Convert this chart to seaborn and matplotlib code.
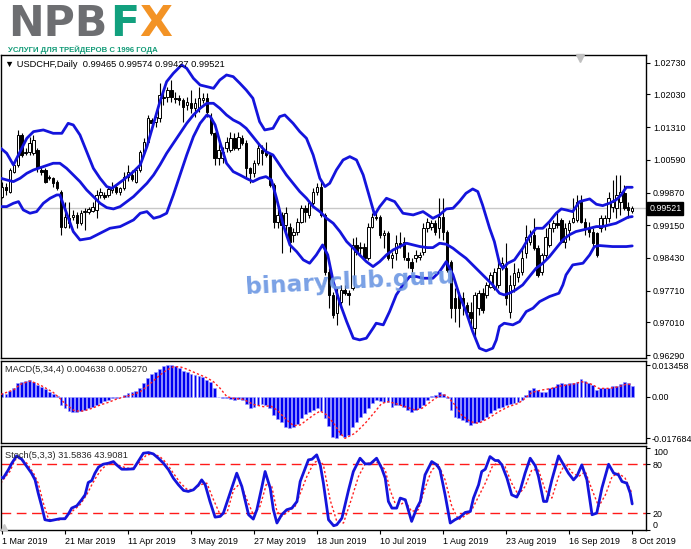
import numpy as np
import matplotlib
matplotlib.use("Agg")
import matplotlib.pyplot as plt
import seaborn as sns
from matplotlib import transforms, font_manager
from matplotlib.lines import Line2D

# ---------------- data ----------------
dates = ['1 Mar 2019', '21 Mar 2019', '11 Apr 2019', '3 May 2019', '27 May 2019', '18 Jun 2019',
         '10 Jul 2019', '1 Aug 2019', '23 Aug 2019', '16 Sep 2019', '8 Oct 2019']
date_pos = [0, 16, 32, 48, 64, 80, 96, 112, 128, 144, 160]

opens = [
    0.99781, 1.00001, 0.99891, 1.00331, 1.00478, 1.01138, 1.00735, 1.00771, 1.00735, 1.00808,
    1.00368, 1.00368, 1.00221, 1.00184, 1.00111, 0.99891, 0.99120, 0.99303, 0.99340, 0.99377,
    0.99193, 0.99450, 0.99450, 0.99465, 0.99487, 0.99817, 0.99817, 0.99817, 0.99927, 1.00001,
    0.99876, 0.99964, 1.00221, 1.00258, 1.00111, 1.00368, 1.00771, 1.00992, 1.01469, 1.01432,
    1.01505, 1.01983, 1.01983, 1.02129, 1.01960, 1.01946, 1.01909, 1.01799, 1.01836, 1.01726,
    1.01726, 1.01909, 1.01946, 1.01505, 1.01175, 1.00625, 1.00625, 1.00845, 1.00808, 1.01065,
    1.00845, 1.01080, 1.00955, 1.00404, 1.00294, 1.00515, 1.00808, 1.00771, 1.00698, 1.00037,
    0.99230, 0.99377, 0.99157, 0.99120, 0.98936, 0.99010, 0.99230, 0.99524, 0.99377, 0.99634,
    0.99891, 1.00001, 0.99377, 0.98129, 0.97615, 0.97212, 0.97468, 0.97725, 0.97652, 0.97762,
    0.98716, 0.98643, 0.98680, 0.98423, 0.99120, 0.99340, 0.99340, 0.98936, 0.98973, 0.98423,
    0.98533, 0.98753, 0.98790, 0.98423, 0.98349, 0.98423, 0.98459, 0.98569, 0.99083, 0.99120,
    0.99193, 0.99083, 0.99340, 0.99010, 0.98349, 0.97542, 0.97615, 0.97542, 0.97395, 0.97248,
    0.96881, 0.97322, 0.97652, 0.97615, 0.97799, 0.97762, 0.97835, 0.98239, 0.98202, 0.97248,
    0.97835, 0.98019, 0.98129, 0.98533, 0.98790, 0.98936, 0.98657, 0.98129, 0.98496, 0.98716,
    0.99083, 0.99193, 0.99267, 0.98790, 0.99047, 0.99230, 0.99267, 0.99670, 0.99230, 0.99083,
    0.99010, 0.98973, 0.99083, 0.99157, 0.99303, 0.99560, 0.99524, 0.99670, 0.99854, 0.99560,
    0.99465]
highs = [
    1.00111, 1.00074, 1.00404, 1.00551, 1.01249, 1.01175, 1.00845, 1.01102, 1.01138, 1.00845,
    1.00441, 1.00404, 1.00258, 1.00221, 1.00148, 0.99927, 0.99670, 0.99670, 0.99487, 0.99450,
    0.99487, 0.99524, 0.99560, 0.99670, 0.99927, 0.99964, 0.99891, 1.00001, 1.00111, 1.00037,
    1.00001, 1.00331, 1.00478, 1.00368, 1.00441, 1.00808, 1.01065, 1.01579, 1.01505, 1.01616,
    1.02276, 1.02093, 1.02203, 1.02349, 1.02093, 1.02019, 1.01946, 1.01983, 1.02129, 1.01946,
    1.02203, 1.02056, 1.02056, 1.01616, 1.01212, 1.00992, 1.00882, 1.01102, 1.01197, 1.01175,
    1.01197, 1.01138, 1.01028, 1.00441, 1.00588, 1.00977, 1.00918, 1.00977, 1.00735, 1.00074,
    0.99560, 0.99450, 0.99560, 0.99193, 0.99083, 0.99303, 0.99597, 0.99597, 0.99670, 0.99964,
    1.00074, 1.00111, 0.99414, 0.98202, 0.97689, 0.97762, 0.97835, 0.97835, 0.97725, 0.98863,
    0.98900, 0.98790, 0.98753, 0.99193, 0.99414, 0.99450, 0.99377, 0.99047, 0.99024, 0.98569,
    0.98936, 0.99010, 0.98900, 0.98569, 0.98423, 0.98606, 0.98569, 0.99193, 0.99303, 0.99267,
    0.99267, 0.99744, 0.99744, 0.99047, 0.98386, 0.97762, 0.97689, 0.97689, 0.97468, 0.97468,
    0.97689, 0.97725, 0.97762, 0.97909, 0.98129, 0.98202, 0.98386, 0.98459, 0.98753, 0.98056,
    0.98313, 0.98202, 0.98643, 0.99157, 0.99047, 0.99303, 0.98716, 0.98533, 0.99083, 0.99193,
    0.99267, 0.99450, 0.99303, 0.99193, 0.99267, 0.99744, 0.99817, 0.99817, 0.99303, 0.99230,
    0.99083, 0.99010, 0.99377, 0.99377, 0.99891, 1.00148, 1.00258, 1.00258, 1.00037, 0.99670,
    0.99574]
lows = [
    0.99744, 0.99817, 0.99854, 1.00294, 1.00441, 1.00661, 1.00698, 1.00698, 1.00698, 1.00331,
    1.00258, 1.00074, 1.00148, 1.00001, 0.99927, 0.98936, 0.99083, 0.99083, 0.99267, 0.99083,
    0.99157, 0.99047, 0.99392, 0.99435, 0.99303, 0.99758, 0.99729, 0.99781, 0.99854, 0.99832,
    0.99817, 0.99927, 1.00125, 1.00125, 1.00074, 1.00331, 1.00735, 1.00977, 1.01359, 1.01322,
    1.01432, 1.01799, 1.01872, 1.01872, 1.01836, 1.01799, 1.01432, 1.01689, 1.01616, 1.01542,
    1.01652, 1.01836, 1.01542, 1.01138, 1.00478, 1.00478, 1.00515, 1.00771, 1.00771, 1.00808,
    1.00808, 1.00918, 1.00221, 1.00074, 1.00221, 1.00478, 1.00478, 1.00661, 1.00001, 0.99083,
    0.99083, 0.98533, 0.98900, 0.98569, 0.98790, 0.98936, 0.99193, 0.99230, 0.99303, 0.99597,
    0.99817, 0.99340, 0.98056, 0.97322, 0.97101, 0.96955, 0.97322, 0.97615, 0.97395, 0.97725,
    0.98496, 0.98496, 0.98386, 0.98386, 0.99083, 0.99267, 0.98863, 0.98643, 0.98386, 0.98202,
    0.98386, 0.98643, 0.98386, 0.98202, 0.98129, 0.98349, 0.98386, 0.98496, 0.99010, 0.99047,
    0.98936, 0.98863, 0.98826, 0.98129, 0.97101, 0.97028, 0.96918, 0.97175, 0.97101, 0.96881,
    0.96661, 0.97175, 0.97212, 0.97542, 0.97762, 0.97725, 0.97762, 0.98166, 0.97395, 0.97101,
    0.97689, 0.97909, 0.98056, 0.98423, 0.98716, 0.98606, 0.98019, 0.98056, 0.98423, 0.98680,
    0.99010, 0.99083, 0.98753, 0.98643, 0.98826, 0.99193, 0.99230, 0.99193, 0.98936, 0.98900,
    0.98680, 0.98459, 0.99010, 0.99047, 0.99230, 0.99450, 0.99303, 0.99377, 0.99487, 0.99303,
    0.99427]
closes = [
    1.00001, 0.99927, 1.00368, 1.00478, 1.01138, 1.00698, 1.00771, 1.00955, 1.01028, 1.00404,
    1.00331, 1.00111, 1.00184, 1.00074, 0.99964, 0.99120, 0.99340, 0.99193, 0.99377, 0.99193,
    0.99414, 0.99465, 0.99509, 0.99560, 0.99817, 0.99891, 0.99781, 0.99949, 1.00001, 0.99876,
    0.99964, 1.00221, 1.00331, 1.00170, 1.00368, 1.00771, 1.00992, 1.01505, 1.01395, 1.01542,
    1.02019, 1.01946, 1.02129, 1.01983, 1.01931, 1.01909, 1.01762, 1.01872, 1.01726, 1.01836,
    1.01946, 1.01960, 1.01652, 1.01175, 1.00625, 1.00808, 1.00771, 1.00977, 1.01065, 1.00845,
    1.01102, 1.00955, 1.00404, 1.00294, 1.00515, 1.00845, 1.00735, 1.00698, 1.00037, 0.99230,
    0.99377, 0.99157, 0.99414, 0.98790, 0.99010, 0.99230, 0.99538, 0.99450, 0.99634, 0.99891,
    1.00001, 0.99377, 0.98129, 0.97615, 0.97175, 0.97615, 0.97725, 0.97652, 0.97615, 0.98716,
    0.98569, 0.98680, 0.98423, 0.99120, 0.99340, 0.99318, 0.98936, 0.98973, 0.98423, 0.98496,
    0.98753, 0.98716, 0.98459, 0.98386, 0.98202, 0.98496, 0.98496, 0.99083, 0.99230, 0.99193,
    0.99010, 0.99340, 0.99010, 0.98166, 0.97322, 0.97322, 0.97322, 0.97395, 0.97248, 0.97101,
    0.97615, 0.97652, 0.97285, 0.97835, 0.98056, 0.98129, 0.98202, 0.98313, 0.97542, 0.97835,
    0.98092, 0.98129, 0.98423, 0.98900, 0.98936, 0.98643, 0.98056, 0.98496, 0.98900, 0.99083,
    0.99193, 0.99157, 0.98790, 0.99083, 0.99193, 0.99303, 0.99670, 0.99230, 0.99083, 0.99010,
    0.98753, 0.98496, 0.99303, 0.99303, 0.99744, 0.99670, 0.99817, 0.99891, 0.99524, 0.99487,
    0.99521]

# Bollinger bands (20,2): bar position / value
ub_x = [-0.3, 1.2, 2.9, 4.6, 6.3, 8.0, 10.5, 13.0, 15.2, 16.8, 18.1, 19.8, 21.5, 23.2, 24.9, 26.6,
        27.9, 29.1, 30.8, 33.4, 35.1, 36.8, 38.5, 40.1, 41.8, 43.5, 45.6, 46.9, 48.6, 50.3, 52.0,
        53.7, 55.3, 57.0, 58.7, 60.4, 62.0, 63.7, 65.4, 66.7, 68.8, 70.5, 71.8, 73.9, 75.6, 77.3,
        79.0, 80.7, 82.0, 83.2, 84.9, 86.6, 88.3, 90.0, 91.7, 93.4, 94.6, 95.9, 97.6, 99.7, 101.8,
        104.4, 106.9, 109.4, 111.1, 112.8, 114.5, 116.1, 117.8, 119.5, 120.8, 122.0, 123.8, 125.0,
        126.3, 127.2, 128.4, 130.1, 132.2, 133.9, 135.6, 137.3, 139.0, 140.7, 142.0, 143.2, 144.9,
        146.6, 149.2, 150.9, 152.5, 154.2, 155.9, 157.2, 158.5, 160.0]
ub_y = [1.00845, 1.00735, 1.00478, 1.00771, 1.01065, 1.01212, 1.01249, 1.01175, 1.01175, 1.01395,
        1.01359, 1.01138, 1.00771, 1.00404, 1.00184, 1.00001, 0.99964, 1.00037, 1.00148, 1.00331,
        1.00478, 1.00882, 1.01395, 1.01872, 1.02313, 1.02496, 1.02680, 1.02606, 1.02386, 1.02239,
        1.02203, 1.02166, 1.02349, 1.02460, 1.02423, 1.02276, 1.02129, 1.01946, 1.01432, 1.01249,
        1.01285, 1.01542, 1.01579, 1.01395, 1.01212, 1.01065, 1.00698, 1.00184, 1.00001, 1.00074,
        1.00368, 1.00588, 1.00661, 1.00588, 1.00258, 0.99744, 0.99377, 0.99560, 0.99744, 0.99670,
        0.99414, 0.99377, 0.99450, 0.99303, 0.99377, 0.99509, 0.99524, 0.99670, 0.99854, 0.99949,
        0.99891, 0.99597, 0.99083, 0.98790, 0.98313, 0.98202, 0.98313, 0.98386, 0.98643, 0.98900,
        0.99083, 0.99083, 0.99230, 0.99414, 0.99509, 0.99487, 0.99450, 0.99670, 0.99729, 0.99612,
        0.99582, 0.99634, 0.99707, 0.99817, 0.99986, 0.99986]
mb_x = [-0.3, 1.2, 2.9, 4.6, 6.3, 8.0, 10.5, 13.0, 14.7, 16.4, 18.1, 19.8, 21.5, 23.2, 24.9, 26.6,
        28.3, 30.0, 31.7, 33.4, 35.1, 36.8, 38.5, 40.1, 41.8, 43.5, 45.2, 46.9, 48.6, 50.3, 52.0,
        53.7, 55.3, 57.0, 58.7, 60.4, 62.0, 63.7, 65.4, 67.0, 68.8, 70.5, 72.2, 73.9, 75.6, 77.3,
        79.0, 80.7, 82.4, 84.1, 85.8, 87.5, 89.2, 90.8, 92.5, 94.2, 95.9, 97.6, 99.3, 101.0, 102.7,
        104.4, 106.1, 108.0, 109.4, 111.1, 112.8, 114.5, 116.1, 117.8, 119.5, 121.2, 122.9, 124.6,
        126.3, 127.5, 128.8, 130.4, 132.2, 133.9, 135.6, 137.3, 139.0, 140.7, 142.4, 144.0, 145.7,
        147.5, 149.2, 150.9, 152.5, 154.2, 155.9, 157.6, 158.9, 160.0]
mb_y = [1.00184, 1.00148, 1.00111, 1.00184, 1.00294, 1.00368, 1.00441, 1.00515, 1.00515, 1.00404,
        1.00258, 1.00111, 0.99927, 0.99781, 0.99634, 0.99538, 0.99509, 0.99560, 0.99670, 0.99781,
        0.99927, 1.00074, 1.00258, 1.00478, 1.00735, 1.00955, 1.01175, 1.01395, 1.01579, 1.01726,
        1.01836, 1.01836, 1.01726, 1.01579, 1.01469, 1.01395, 1.01285, 1.01102, 1.00918, 1.00771,
        1.00698, 1.00478, 1.00258, 1.00074, 0.99891, 0.99744, 0.99560, 0.99450, 0.99303, 0.99193,
        0.99010, 0.98790, 0.98643, 0.98496, 0.98349, 0.98239, 0.98349, 0.98496, 0.98606, 0.98680,
        0.98753, 0.98716, 0.98680, 0.98657, 0.98657, 0.98753, 0.98731, 0.98643, 0.98533, 0.98423,
        0.98276, 0.98129, 0.97982, 0.97835, 0.97652, 0.97615, 0.97652, 0.97725, 0.97835, 0.98019,
        0.98202, 0.98313, 0.98459, 0.98643, 0.98826, 0.98936, 0.99010, 0.99047, 0.99083, 0.99120,
        0.99120, 0.99157, 0.99193, 0.99267, 0.99325, 0.99340]
lb_x = [-0.3, 1.2, 2.9, 4.2, 5.4, 7.1, 8.8, 10.5, 12.2, 13.9, 14.7, 16.4, 18.1, 19.8, 22.4, 24.9,
        27.4, 30.0, 31.7, 33.4, 35.1, 36.8, 38.5, 40.1, 41.8, 43.5, 45.2, 46.9, 48.6, 50.3, 52.0,
        52.9, 54.1, 55.3, 57.0, 58.7, 60.4, 62.0, 63.7, 65.4, 67.0, 68.4, 69.7, 71.4, 73.1, 74.8,
        76.5, 78.1, 79.8, 81.4, 82.7, 84.1, 85.8, 87.5, 89.2, 90.8, 92.5, 94.2, 95.0, 96.8, 98.4,
        100.1, 101.8, 103.5, 105.2, 106.9, 109.4, 111.1, 112.8, 114.5, 116.1, 117.8, 119.5, 121.2,
        122.9, 124.6, 125.5, 126.3, 127.5, 129.7, 131.4, 133.1, 134.8, 136.5, 139.0, 141.4, 142.4,
        143.2, 144.9, 147.5, 149.2, 150.4, 151.7, 155.0, 158.5, 160.0]
lb_y = [0.99560, 0.99560, 0.99634, 0.99670, 0.99487, 0.99414, 0.99450, 0.99634, 0.99744, 0.99817,
        0.99817, 0.99414, 0.99010, 0.98826, 0.98863, 0.98973, 0.99083, 0.99120, 0.99193, 0.99267,
        0.99414, 0.99450, 0.99303, 0.99340, 0.99414, 0.99817, 1.00258, 1.00698, 1.01102, 1.01395,
        1.01579, 1.01542, 1.01359, 1.00992, 1.00515, 1.00331, 1.00258, 1.00184, 1.00111, 1.00184,
        1.00221, 1.00148, 0.99744, 0.99157, 0.98716, 0.98569, 0.98386, 0.98313, 0.98496, 0.98716,
        0.98496, 0.97909, 0.97432, 0.97028, 0.96661, 0.96624, 0.96661, 0.96881, 0.96991, 0.96955,
        0.97248, 0.97615, 0.97835, 0.98019, 0.98019, 0.97982, 0.97982, 0.98129, 0.98349, 0.98056,
        0.97615, 0.97248, 0.96808, 0.96441, 0.96382, 0.96441, 0.96624, 0.96918, 0.96991, 0.96955,
        0.97028, 0.97248, 0.97322, 0.97468, 0.97579, 0.97652, 0.97835, 0.98056, 0.98276, 0.98313,
        0.98496, 0.98680, 0.98702, 0.98680, 0.98680, 0.98694]

# MACD(5,34,4)
macd_hist = [
    0.00142, 0.00099, 0.00241, 0.00354, 0.00566, 0.00637, 0.00666, 0.00708, 0.00637, 0.00496,
    0.00425, 0.00326, 0.00212, 0.00127, 0.00028, -0.00354, -0.00496, -0.00609, -0.00637, -0.00637,
    -0.00609, -0.00566, -0.00496, -0.00425, -0.00354, -0.00283, -0.00184, -0.00142, -0.00071, -0.00042,
    -0.00010, 0.00071, 0.00142, 0.00212, 0.00255, 0.00382, 0.00566, 0.00807, 0.00949, 0.01034,
    0.01175, 0.01289, 0.013458, 0.01331, 0.01289, 0.01204, 0.01104, 0.01034, 0.00963, 0.00906,
    0.00878, 0.00835, 0.00708, 0.00609, 0.00354, -0.00028, -0.00042, -0.00071, -0.00085, -0.00127,
    -0.00099, -0.00127, -0.00326, -0.00467, -0.00425, -0.00354, -0.00326, -0.00354, -0.00467, -0.00779,
    -0.00949, -0.01090, -0.01274, -0.01345, -0.01303, -0.01161, -0.00920, -0.00750, -0.00637, -0.00581,
    -0.00496, -0.00609, -0.00920, -0.01232, -0.01699, -0.017684, -0.01630, -0.01700, -0.01628, -0.01274,
    -0.01062, -0.00850, -0.00708, -0.00496, -0.00283, -0.00142, -0.00184, -0.00212, -0.00241, -0.00425,
    -0.00354, -0.00354, -0.00425, -0.00566, -0.00637, -0.00566, -0.00496, -0.00354, -0.00142, 0.00028,
    0.00071, 0.00184, 0.00099, -0.00042, -0.00566, -0.00850, -0.00920, -0.00991, -0.01062, -0.01204,
    -0.01133, -0.01062, -0.00991, -0.00850, -0.00708, -0.00566, -0.00467, -0.00425, -0.00354, -0.00326,
    -0.00283, -0.00212, -0.00142, 0.00071, 0.00283, 0.00354, 0.00283, 0.00184, 0.00212, 0.00354,
    0.00425, 0.00524, 0.00566, 0.00524, 0.00566, 0.00566, 0.00637, 0.00750, 0.00666, 0.00566,
    0.00496, 0.00283, 0.00382, 0.00354, 0.00354, 0.00467, 0.00467, 0.00524, 0.00637, 0.00566,
    0.004638]
macd_sig_x = [-0.3, 2.9, 4.6, 7.1, 8.8, 10.5, 13.0, 14.7, 16.4, 18.5, 20.7, 22.8, 24.9, 27.0, 29.1,
              31.2, 33.4, 35.1, 36.7, 38.4, 40.1, 41.8, 43.5, 45.2, 46.9, 49.4, 52.0, 53.7, 55.4,
              57.1, 58.8, 61.3, 63.8, 66.4, 68.1, 69.8, 72.3, 74.0, 75.7, 77.4, 79.1, 80.8, 82.5,
              84.2, 85.9, 87.1, 89.6, 92.2, 94.7, 96.4, 98.1, 99.8, 102.4, 104.9, 106.6, 108.3,
              110.0, 111.7, 112.9, 115.0, 116.7, 118.9, 121.0, 123.5, 126.1, 128.6, 131.1, 132.8,
              134.5, 137.0, 139.6, 142.1, 144.7, 147.2, 149.8, 151.5, 154.0, 156.6, 158.3, 160.0]
macd_sig_y = [0.00099, 0.00283, 0.00524, 0.00666, 0.00566, 0.00425, 0.00184, -0.00071, -0.00354,
              -0.00609, -0.00609, -0.00496, -0.00354, -0.00241, -0.00099, 0.0, 0.00099, 0.00212,
              0.00425, 0.00666, 0.00920, 0.01133, 0.01274, 0.01274, 0.01175, 0.00991, 0.00807,
              0.00637, 0.00354, 0.0, -0.00071, -0.00113, -0.00326, -0.00425, -0.00382, -0.00566,
              -0.00991, -0.01232, -0.01204, -0.00991, -0.00779, -0.00609, -0.00779, -0.01133,
              -0.01558, -0.01770, -0.01558, -0.01133, -0.00637, -0.00283, -0.00212, -0.00283,
              -0.00425, -0.00566, -0.00496, -0.00283, -0.00071, 0.00099, 0.00042, -0.00354,
              -0.00779, -0.01062, -0.01133, -0.00920, -0.00637, -0.00425, -0.00283, -0.00071,
              0.00184, 0.00283, 0.00354, 0.00467, 0.00524, 0.00637, 0.00524, 0.00354, 0.00354,
              0.00425, 0.00524, 0.00527]

# Stochastic(5,3,3)
st_x = [-0.3, 0.3, 1.6, 2.5, 3.7, 5.0, 6.3, 7.5, 8.4, 9.2, 10.1, 10.9, 12.2, 13.5, 14.7, 16.0, 16.9,
        17.7, 19.0, 20.2, 21.1, 21.9, 22.8, 23.6, 24.5, 25.7, 27.0, 28.3, 29.1, 30.4, 31.7, 33.4,
        34.2, 35.9, 37.2, 38.4, 39.7, 41.0, 42.3, 43.5, 44.8, 46.1, 47.3, 48.6, 49.9, 50.7, 51.6,
        52.8, 54.1, 55.4, 56.2, 57.9, 59.6, 60.9, 62.6, 63.8, 64.7, 66.0, 66.8, 68.1, 68.9, 69.8,
        71.0, 72.3, 73.6, 74.9, 75.7, 77.0, 77.8, 78.7, 79.9, 80.8, 81.6, 82.9, 84.2, 85.0, 86.3,
        87.1, 88.0, 89.2, 90.9, 92.2, 93.5, 95.1, 96.4, 97.3, 98.1, 99.0, 100.2, 101.1, 102.4,
        104.0, 105.3, 106.2, 107.4, 109.1, 110.4, 111.2, 112.5, 113.8, 115.0, 116.3, 117.6, 118.9,
        119.7, 121.0, 121.8, 122.7, 123.9, 125.2, 126.0, 126.9, 128.2, 129.4, 130.7, 131.6, 132.8,
        134.1, 135.4, 136.2, 137.5, 138.3, 139.6, 141.3, 142.6, 143.8, 145.1, 146.0, 147.2, 148.5,
        149.8, 151.0, 152.3, 154.0, 155.3, 156.5, 157.4, 158.6, 159.5, 160.0]
st_y = [64.2, 63.0, 73.1, 81.2, 90.1, 86.1, 77.2, 69.1, 60.9, 44.7, 28.5, 12.3, 11.1, 12.3, 13.5,
        13.5, 19.6, 26.5, 29.3, 36.6, 42.7, 57.7, 60.1, 69.1, 76.4, 80.0, 81.2, 83.2, 79.2, 73.9,
        73.9, 74.3, 80.4, 93.4, 94.2, 92.6, 87.3, 81.2, 73.1, 63.0, 54.9, 48.0, 46.8, 48.8, 54.9,
        60.9, 54.9, 34.6, 15.5, 16.4, 20.4, 44.7, 69.1, 52.8, 18.4, 13.1, 24.5, 52.8, 71.1, 50.8,
        24.5, 8.3, 18.4, 24.5, 26.5, 34.6, 58.9, 75.1, 85.3, 86.1, 91.4, 79.2, 56.9, 12.3, 5.0,
        6.2, 14.3, 30.5, 48.8, 71.1, 87.3, 80.4, 80.4, 87.3, 75.1, 63.0, 34.6, 26.5, 26.5, 38.7,
        36.6, 10.3, 26.5, 34.6, 67.0, 83.2, 79.2, 73.1, 42.7, 8.3, 12.3, 15.5, 21.2, 22.4, 38.7,
        54.9, 71.1, 73.9, 89.3, 84.5, 84.5, 79.2, 63.0, 42.7, 39.9, 48.8, 69.1, 87.3, 78.0, 65.0,
        34.6, 34.6, 60.9, 90.1, 79.2, 69.1, 60.9, 65.8, 79.2, 60.9, 18.4, 20.4, 50.8, 80.0, 69.1,
        67.0, 58.9, 56.9, 44.7, 31.5836]
ss_x = [-0.3, 0.8, 2.0, 3.3, 4.6, 6.3, 8.0, 9.2, 10.5, 11.8, 13.0, 14.7, 16.4, 18.1, 19.8, 21.5,
        22.8, 24.0, 25.3, 26.6, 28.3, 30.0, 31.7, 33.4, 35.1, 36.7, 38.4, 40.1, 41.8, 43.5, 45.2,
        46.9, 48.6, 50.3, 52.0, 53.7, 55.4, 57.1, 58.8, 60.5, 62.2, 63.8, 65.5, 67.2, 68.5, 69.8,
        71.0, 72.7, 74.4, 76.1, 77.4, 79.1, 80.4, 81.6, 83.3, 85.0, 86.7, 88.8, 90.5, 92.2, 93.9,
        95.6, 97.3, 98.5, 99.8, 101.1, 102.4, 104.0, 105.7, 107.4, 109.1, 110.8, 112.5, 114.2,
        115.9, 117.6, 119.3, 121.0, 122.7, 124.4, 126.1, 127.7, 129.4, 131.1, 132.8, 134.5, 136.2,
        137.9, 139.6, 141.3, 143.0, 144.7, 146.4, 148.1, 149.8, 151.5, 153.2, 154.9, 156.5, 158.2,
        160.0]
ss_y = [56.9, 64.2, 71.1, 85.3, 87.3, 81.2, 69.1, 56.9, 32.6, 13.1, 11.5, 12.3, 15.5, 23.7, 30.5,
        42.7, 54.9, 65.0, 73.9, 79.2, 82.0, 78.0, 75.1, 75.1, 83.2, 91.4, 92.6, 89.3, 81.2, 69.1,
        57.7, 49.6, 48.8, 54.9, 56.9, 36.6, 18.4, 20.4, 48.8, 56.9, 36.6, 18.4, 28.5, 56.9, 52.8,
        22.4, 16.4, 22.4, 28.5, 48.8, 65.0, 81.2, 85.3, 79.2, 36.6, 10.3, 8.3, 38.7, 65.0, 80.4,
        82.0, 82.0, 73.1, 48.8, 32.6, 30.5, 34.6, 22.4, 24.5, 50.8, 73.1, 79.2, 60.9, 28.5, 12.3,
        17.2, 24.5, 40.7, 56.9, 76.4, 83.2, 77.2, 56.9, 42.7, 52.8, 73.1, 73.1, 48.8, 38.7, 65.0,
        81.2, 69.9, 65.0, 71.1, 48.8, 28.5, 42.7, 65.0, 69.1, 63.0, 43.9081]

price_ticks = [1.02730, 1.02030, 1.01310, 1.00590, 0.99870, 0.99150, 0.98430, 0.97710, 0.97010, 0.96290]
macd_ticks = [0.013458, 0.0, -0.017684]
macd_tick_labels = ['0.013458', '0.00', '-0.017684']
stoch_ticks = [100, 80, 20, 0]
stoch_levels = [80, 20]
last_price = 0.99521

# ---------------- style ----------------
sns.set_style("white")
avail = {f.name for f in font_manager.fontManager.ttflist}
SMALL = 'Liberation Sans' if 'Liberation Sans' in avail else 'DejaVu Sans'
plt.rcParams['font.family'] = [SMALL, 'DejaVu Sans']
FS = 6.4
BLUE = '#1414dc'

W, H = 691, 549
fig = plt.figure(figsize=(W / 100, H / 100), dpi=100)
fig.patch.set_facecolor('white')


def ax_at(x0, y0, x1, y1):
    return fig.add_axes([x0 / W, 1 - y1 / H, (x1 - x0) / W, (y1 - y0) / H])


ax = ax_at(1, 55, 646, 358)
axm = ax_at(1, 361, 646, 443)
axs = ax_at(1, 446, 646, 530)

XL = (-0.25, 163.5)
for a in (ax, axm, axs):
    a.set_facecolor('white')
    a.set_xlim(*XL)
    for s in a.spines.values():
        s.set_color('black')
        s.set_linewidth(1.0)
    a.yaxis.tick_right()
    a.tick_params(axis='y', direction='out', length=3, width=0.8, pad=2, labelsize=FS,
                  colors='black', right=True, left=False)

# ---------------- main price panel ----------------
idx = np.arange(len(closes))
o = np.array(opens)
c = np.array(closes)
hi = np.array(highs)
lo = np.array(lows)
bull = c >= o
ax.axhline(last_price, color='#c8c8c8', lw=1.0, zorder=1)
ax.vlines(idx, lo, hi, color='black', lw=0.8, zorder=3)
body_lo = np.minimum(o, c)
body_h = np.maximum(np.abs(c - o), 0.00003)
ax.bar(idx[bull], body_h[bull], bottom=body_lo[bull], width=0.62, color='white',
       edgecolor='black', linewidth=0.7, zorder=4)
ax.bar(idx[~bull], body_h[~bull], bottom=body_lo[~bull], width=0.62, color='black',
       edgecolor='black', linewidth=0.7, zorder=4)

for bx, by in ((ub_x, ub_y), (mb_x, mb_y), (lb_x, lb_y)):
    sns.lineplot(x=bx, y=by, ax=ax, color=BLUE, linewidth=2.0, sort=False,
                 estimator=None, errorbar=None, zorder=5)

ax.set_ylim(0.96225, 1.02900)
ax.set_yticks(price_ticks)
ax.set_yticklabels([f'{v:.5f}' for v in price_ticks])
ax.set_xticks([])
ax.set_xlabel('')
ax.set_ylabel('')

blend = transforms.blended_transform_factory(ax.transAxes, ax.transData)
ax.text(1.005, last_price, f'{last_price:.5f}', transform=blend, ha='left', va='center',
        fontsize=FS, color='white', zorder=10, clip_on=False,
        bbox=dict(boxstyle='square,pad=0.2', fc='black', ec='black'))

# ---------------- MACD panel ----------------
axm.bar(idx, macd_hist, width=0.72, color='#0000f0', edgecolor='#9a9aff', linewidth=0.4, zorder=2)
sns.lineplot(x=macd_sig_x, y=macd_sig_y, ax=axm, color='#ff2020', linewidth=1.0, sort=False,
             estimator=None, errorbar=None, zorder=3)
axm.lines[-1].set_linestyle((0, (1.6, 1.6)))
axm.set_ylim(-0.0197, 0.0152)
axm.set_yticks(macd_ticks)
axm.set_yticklabels(macd_tick_labels)
axm.tick_params(axis='y', pad=1)
axm.set_xticks([])
axm.set_xlabel('')
axm.set_ylabel('')

# ---------------- Stochastic panel ----------------
for lv in stoch_levels:
    axs.axhline(lv, color='#ff1a1a', lw=1.0, linestyle=(0, (7, 4)), zorder=1)
sns.lineplot(x=ss_x, y=ss_y, ax=axs, color='#ff2020', linewidth=1.0, sort=False,
             estimator=None, errorbar=None, zorder=2)
axs.lines[-1].set_linestyle((0, (1.6, 1.6)))
sns.lineplot(x=st_x, y=st_y, ax=axs, color=BLUE, linewidth=2.0, sort=False,
             estimator=None, errorbar=None, zorder=3)
axs.set_ylim(-0.2, 102.2)
axs.set_yticks(stoch_ticks)
axs.set_yticklabels([str(v) for v in stoch_ticks])
labs = axs.get_yticklabels()
labs[0].set_va('top')
labs[-1].set_va('bottom')
axs.set_xticks(date_pos)
axs.set_xticklabels(dates)
axs.tick_params(axis='x', direction='out', length=3, width=0.8, pad=2, labelsize=FS,
                colors='black', bottom=True)
for t in axs.get_xticklabels():
    t.set_ha('left')
axs.set_xlabel('')
axs.set_ylabel('')

# ---------------- texts ----------------
fig.text(5 / W, 1 - 64 / H, '\u25BC USDCHF,Daily  0.99465 0.99574 0.99427 0.99521',
         fontsize=FS + 0.3, va='center', ha='left', color='black')
fig.text(5 / W, 1 - 369 / H, 'MACD(5,34,4) 0.004638 0.005270', fontsize=FS + 0.3, va='center', ha='left')
fig.text(5 / W, 1 - 455 / H, 'Stoch(5,3,3) 31.5836 43.9081', fontsize=FS + 0.3, va='center', ha='left')

fig.add_artist(Line2D([580 / W], [1 - 57.5 / H], marker='v', markersize=6, color='#c0c0c0',
                      transform=fig.transFigure, linestyle='none'))
fig.add_artist(Line2D([4 / W], [1 - 527 / H], marker='^', markersize=4, color='#c8c8c8',
                      transform=fig.transFigure, linestyle='none'))

renderer = fig.canvas.get_renderer()


def fit(t, target_w):
    w = t.get_window_extent(renderer).width
    t.set_fontsize(t.get_fontsize() * target_w / w)


# logo
GRAY, GREEN, ORANGE = '#6d6e71', '#12a07e', '#f39325'
LOGO_BASE = 1 - 36 / H
tn = fig.text(8 / W, LOGO_BASE, 'NPB', fontsize=31, fontweight='heavy', color=GRAY,
              family='DejaVu Sans', va='baseline', ha='left')
fit(tn, 100)
fsz = tn.get_fontsize()
tf = fig.text(110 / W, LOGO_BASE, 'F', fontsize=fsz, fontweight='heavy', color=GREEN,
              family='DejaVu Sans', va='baseline', ha='left')
fx0 = tf.get_window_extent(renderer).x1
tx = fig.text(fx0 / W, LOGO_BASE, 'X', fontsize=fsz, fontweight='heavy', color=ORANGE,
              family='DejaVu Sans', va='baseline', ha='left')
sub_font = 'Liberation Sans Narrow' if 'Liberation Sans Narrow' in avail else SMALL
ts = fig.text(8 / W, 1 - 52 / H, 'УСЛУГИ ДЛЯ ТРЕЙДЕРОВ С 1996 ГОДА', fontsize=7,
              fontweight='bold', color='#119a76', family=[sub_font, 'DejaVu Sans'],
              va='baseline', ha='left')
fit(ts, 150)

# watermark
wm = fig.text(350 / W, 1 - 282 / H, 'binaryclub.guru', fontsize=18, fontweight='bold',
              color='#6b96e2', alpha=0.9, family='DejaVu Sans', rotation=3,
              ha='center', va='center', zorder=20)
fit(wm, 210)

fig.savefig('out.png', dpi=100, facecolor='white')
